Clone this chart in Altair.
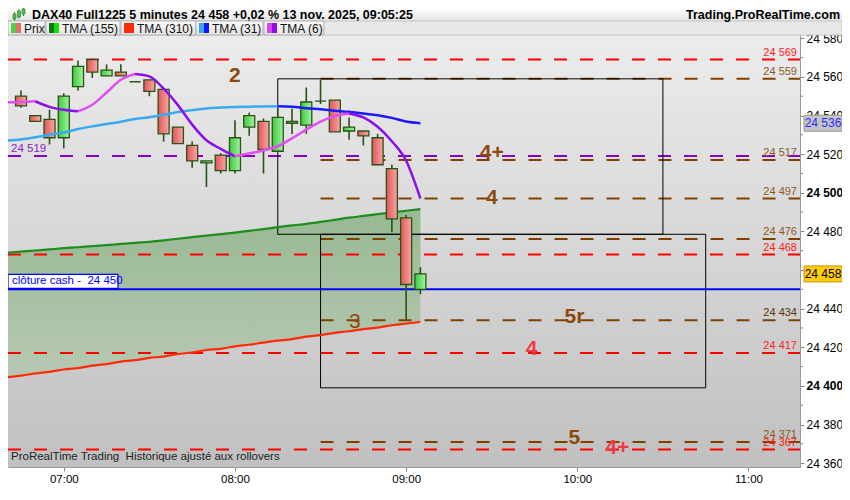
import altair as alt
import pandas as pd

# ---------------- data ----------------
times = ["06:45", "06:50", "06:55", "07:00", "07:05", "07:10", "07:15", "07:20", "07:25", "07:30",
         "07:35", "07:40", "07:45", "07:50", "07:55", "08:00", "08:05", "08:10", "08:15", "08:20",
         "08:25", "08:30", "08:35", "08:40", "08:45", "08:50", "08:55", "09:00", "09:05"]
opens = [24550, 24540, 24538, 24528.5, 24555, 24569, 24560.5, 24562.5, 24557.5, 24558.5,
         24553.5, 24534, 24524.5, 24515.5, 24519.5, 24511.5, 24534, 24537, 24521.5, 24536,
         24535, 24547.5, 24548, 24532, 24532, 24528.5, 24512.5, 24487, 24450]
highs = [24553, 24540, 24543, 24551.5, 24568.5, 24569.5, 24566.5, 24566.5, 24557.5, 24558.5,
         24553.5, 24534, 24526.5, 24516.5, 24520.5, 24537.5, 24541.5, 24538.5, 24544, 24543.5,
         24554.5, 24558.5, 24548, 24539, 24532, 24530.5, 24514.5, 24488.5, 24461.5]
lows = [24544, 24537, 24525, 24523, 24553, 24559.5, 24560.5, 24560.5, 24557.5, 24550,
        24526.5, 24525.5, 24513, 24503, 24510, 24510, 24529.5, 24510, 24521.5, 24530.5,
        24530.5, 24546, 24531.5, 24527.5, 24524.5, 24514.5, 24479.5, 24434, 24447.5]
closes = [24545, 24537, 24528.5, 24550, 24565.5, 24562.5, 24563.5, 24560.5, 24557.5, 24552.5,
          24530.5, 24525.5, 24516.5, 24516.5, 24511.5, 24528.5, 24540, 24522.5, 24539, 24537,
          24547, 24547.5, 24531.5, 24534, 24529.5, 24514.5, 24486.5, 24452.5, 24458]

ma_times = ["06:40"] + times
tma6 = [24546.8, 24547.0, 24547.4, 24544.5, 24543.0, 24542.2, 24545.6, 24551.9, 24558.5, 24561.5,
        24560.3, 24553.9, 24545.4, 24535.3, 24527.2, 24522.7, 24518.9, 24520.4, 24521.9, 24524.1,
        24528.2, 24532.7, 24536.8, 24539.8, 24541.1, 24539.0, 24534.2, 24526.7, 24516.6, 24497.0]
tma31 = [24527.0, 24527.6, 24528.7, 24530.0, 24531.2, 24533.0, 24534.4, 24535.6, 24536.8, 24538.2,
         24539.1, 24540.4, 24541.8, 24542.8, 24543.7, 24544.1, 24544.4, 24544.6, 24544.7, 24544.8,
         24544.6, 24543.8, 24543.2, 24542.5, 24541.9, 24541.0, 24540.2, 24538.8, 24536.9, 24536.0]
tma155 = [24469.0, 24469.5, 24470.1, 24470.7, 24471.3, 24471.8, 24472.4, 24472.9, 24473.5, 24474.1,
          24474.6, 24475.4, 24476.2, 24477.0, 24477.8, 24478.6, 24479.4, 24480.3, 24481.2, 24482.2,
          24483.1, 24483.9, 24484.9, 24486.0, 24487.1, 24488.0, 24488.9, 24489.8, 24490.7, 24491.5]
tma310 = [24404.5, 24405.3, 24406.5, 24407.3, 24408.5, 24409.2, 24410.5, 24411.3, 24412.6, 24413.3,
          24414.5, 24415.2, 24416.5, 24417.3, 24418.6, 24419.2, 24420.5, 24421.3, 24422.4, 24423.4,
          24424.2, 24425.5, 24426.3, 24427.5, 24428.3, 24429.4, 24430.2, 24431.4, 24432.2, 24433.2]

red_levels = [24569, 24468, 24417, 24367]
brown_levels = [24559, 24517, 24497, 24476, 24434, 24371]
brown_start = "08:30"
purple_level = 24519
cash_close = 24450

label_values = [24569, 24559, 24517, 24497, 24476, 24468, 24434, 24417, 24371, 24367]
label_colors = ["#ff1a1a", "#8b5a1e", "#8b5a1e", "#8b5a1e", "#8b5a1e", "#ff1a1a",
                "#5a3608", "#ff1a1a", "#8b5a1e", "#ff1a1a"]

box_start = ["08:15", "08:30"]
box_end = ["10:30", "10:45"]
box_low = [24478.5, 24399]
box_high = [24559, 24478.5]

ann_text = ["2", "4+", "4", "3", "5r", "4", "5", "4+"]
ann_time = ["08:00", "09:30", "09:30", "08:42", "09:59", "09:44", "09:59", "10:14"]
ann_price = [24560.5, 24520.6, 24497.4, 24433, 24435.8, 24419, 24373, 24367.6]
ann_color = ["#8b4a0c", "#8b4a0c", "#8b4a0c", "#8b4a0c", "#8b4a0c", "#f03844", "#8b4a0c", "#f03844"]
ann_bold = [True, True, True, False, True, True, True, True]

tag_values = [24536, 24458]
tag_fill = ["#c4c4c4", "#ffcc11"]
tag_stroke = ["#9a9a9a", "#c89a00"]
tag_text_color = ["#2a2aff", "#000000"]

legend_labels = ["Prix", "TMA (155)", "TMA (310)", "TMA (31)", "TMA (6)"]
legend_colors = [("#4dd24d", "#e86b6b"), ("#0b7a0b", "#11dd11"), ("#ff2a0a", "#ff2a0a"),
                 ("#33aaee", "#1414ff"), ("#d447f0", "#8a12e6")]
legend_x = [(0, 37), (38, 112), (113, 188), (188, 255), (256, 316)]

y_ticks = list(range(24360, 24581, 20))
y_minor = list(range(24370, 24580, 20))
x_ticks = ["07:00", "08:00", "09:00", "10:00", "11:00"]

# ---------------- setup ----------------
W, H = 792, 432
FONT = "Liberation Sans"
EDGE = "#2a5214"
BROWN = "#7f4000"


def to_min(s):
    h, m = s.split(":")
    return int(h) * 60 + int(m)


def fmt(v):
    return f"{int(round(v)):,}".replace(",", " ")


XS = alt.Scale(domain=[402.2, 676.3], nice=False, zero=False)
YS = alt.Scale(domain=[24358, 24581.7], nice=False, zero=False)

X_AXIS = alt.Axis(values=[to_min(s) for s in x_ticks],
                  labelExpr="(floor(datum.value/60) < 10 ? '0' : '') + floor(datum.value/60) + ':00'",
                  title=None, grid=False, tickSize=4, tickColor="#888", domainColor="#999",
                  labelFontSize=11.5, labelColor="#000", labelFont=FONT, labelPadding=2)
Y_AXIS = alt.Axis(orient="right", values=y_ticks,
                  labelExpr="replace(format(datum.value, ','), ',', ' ')",
                  labelFontWeight=alt.condition("datum.value % 100 == 0", alt.value("bold"), alt.value("normal")),
                  title=None, grid=False, tickSize=4, tickColor="#888", domainColor="#999",
                  labelFontSize=12, labelColor="#000", labelFont=FONT, labelPadding=2, zindex=0)


def X(field):
    return alt.X(field, type="quantitative", scale=XS, axis=X_AXIS)


def Y(field):
    return alt.Y(field, type="quantitative", scale=YS, axis=Y_AXIS)


def grad(c1, c2, horizontal=False):
    return alt.LinearGradient(gradient="linear",
                              stops=[alt.GradientStop(color=c1, offset=0), alt.GradientStop(color=c2, offset=1)],
                              x1=0, x2=1 if horizontal else 0, y1=0, y2=0 if horizontal else 1)


dummy = pd.DataFrame({"k": [0]})


def prect(x1, x2, y1, y2, **mk):
    return alt.Chart(dummy).mark_rect(**mk).encode(x=alt.value(x1), x2=alt.value(x2),
                                                   y=alt.value(y1), y2=alt.value(y2))


def ptext(x, y, s, **mk):
    return alt.Chart(dummy).mark_text(text=s, font=FONT, baseline="middle", **mk).encode(
        x=alt.value(x), y=alt.value(y))


def ma_segments(name, vals, up, down):
    ts = [to_min(s) for s in ma_times]
    rows = []
    seg = 0
    cur = None
    for i in range(len(vals) - 1):
        d = up if vals[i + 1] >= vals[i] else down
        if d != cur:
            seg += 1
            cur = d
            rows.append({"t": ts[i], "v": vals[i], "seg": f"{name}{seg}", "c": d})
        rows.append({"t": ts[i + 1], "v": vals[i + 1], "seg": f"{name}{seg}", "c": d})
    return pd.DataFrame(rows)


cdf = pd.DataFrame({"t": [to_min(s) for s in times], "open": opens, "high": highs,
                    "low": lows, "close": closes})
mdf = pd.DataFrame({"t": [to_min(s) for s in ma_times], "tma155": tma155, "tma310": tma310})

layers = []

# plot background
layers.append(prect(0, W, 0, H, fill=grad("#ececec", "#c0c0c0")))

# cloud between TMA155 and TMA310
layers.append(alt.Chart(mdf).mark_area(color=grad("#97b993", "#b7c8b2")).encode(
    x=X("t"), y=Y("tma155"), y2="tma310"))

# levels
rdf = pd.DataFrame({"v": red_levels})
layers.append(alt.Chart(rdf).mark_rule(color="#ff0000", strokeWidth=2, strokeDash=[13, 13]).encode(
    y=Y("v"), x=alt.value(0), x2=alt.value(W)))
pdf_ = pd.DataFrame({"v": [purple_level]})
layers.append(alt.Chart(pdf_).mark_rule(color="#8400cc", strokeWidth=2, strokeDash=[13, 13]).encode(
    y=Y("v"), x=alt.value(0), x2=alt.value(W)))
bdf = pd.DataFrame({"v": brown_levels, "t0": [to_min(brown_start)] * len(brown_levels)})
layers.append(alt.Chart(bdf).mark_rule(color=BROWN, strokeWidth=2, strokeDash=[13, 13]).encode(
    y=Y("v"), x=X("t0"), x2=alt.value(W)))

# boxes
boxdf = pd.DataFrame({"t1": [to_min(s) for s in box_start], "t2": [to_min(s) for s in box_end],
                      "lo": box_low, "hi": box_high})
layers.append(alt.Chart(boxdf).mark_rect(fillOpacity=0, stroke="#000", strokeWidth=1).encode(
    x=X("t1"), x2="t2", y=Y("lo"), y2="hi"))

# cash close line
cashdf = pd.DataFrame({"v": [cash_close], "txt": ["clôture cash -\u00a0\u00a0" + fmt(cash_close)]})
layers.append(alt.Chart(cashdf).mark_rule(color="#0000ff", strokeWidth=2).encode(
    y=Y("v"), x=alt.value(0), x2=alt.value(W)))

# TMA 155 / 310
layers.append(alt.Chart(mdf).mark_line(color="#1f8c1f", strokeWidth=2.2, interpolate="monotone").encode(
    x=X("t"), y=Y("tma155")))
layers.append(alt.Chart(mdf).mark_line(color="#ff2a0a", strokeWidth=2.2, interpolate="monotone").encode(
    x=X("t"), y=Y("tma310")))

# candles
layers.append(alt.Chart(cdf).mark_rule(color=EDGE, strokeWidth=1.6).encode(
    x=X("t"), y=Y("low"), y2="high"))
layers.append(alt.Chart(cdf).transform_filter("datum.close >= datum.open").mark_bar(
    size=11, fill=grad("#3dcb3d", "#a3f2a3", True), stroke=EDGE, strokeWidth=1.3).encode(
    x=X("t"), y=Y("open"), y2="close"))
layers.append(alt.Chart(cdf).transform_filter("datum.close < datum.open").mark_bar(
    size=11, fill=grad("#e25656", "#f8a6a6", True), stroke=EDGE, strokeWidth=1.3).encode(
    x=X("t"), y=Y("open"), y2="close"))

# TMA 31 and TMA 6 (two-colour)
for name, vals, up, down in [("m31", tma31, "#38aaf0", "#1a1aff"), ("m6", tma6, "#e050f0", "#8a10e8")]:
    sdf = ma_segments(name, vals, up, down)
    layers.append(alt.Chart(sdf).mark_line(strokeWidth=2.5, interpolate="monotone").encode(
        x=X("t"), y=Y("v"), detail="seg:N", color=alt.Color("c:N", scale=None), order="t:Q"))

# level labels on the right
ldf = pd.DataFrame({"v": label_values, "c": label_colors, "txt": [fmt(v) for v in label_values]})
layers.append(alt.Chart(ldf).mark_text(align="right", baseline="middle", dy=-7, fontSize=11, font=FONT).encode(
    y=Y("v"), x=alt.value(789), text="txt:N", color=alt.Color("c:N", scale=None)))
pl = pd.DataFrame({"v": [purple_level], "txt": [fmt(purple_level)]})
layers.append(alt.Chart(pl).mark_text(align="left", baseline="middle", dy=-7, fontSize=11.5, font=FONT,
                                      color="#8c1ec8").encode(y=Y("v"), x=alt.value(3), text="txt:N"))

# cash label
layers.append(alt.Chart(cashdf).mark_rect(fill="white", stroke="#0000ff", strokeWidth=1.2,
                                          yOffset=-15, y2Offset=-1).encode(
    y=Y("v"), y2="v", x=alt.value(0), x2=alt.value(110)))
layers.append(alt.Chart(cashdf).mark_text(align="left", baseline="middle", dy=-8, fontSize=11.5, font=FONT,
                                          color="#0000ff").encode(y=Y("v"), x=alt.value(4), text="txt:N"))

# annotations
adf = pd.DataFrame({"t": [to_min(s) for s in ann_time], "v": ann_price, "txt": ann_text,
                    "c": ann_color, "b": ann_bold})
for bold in [True, False]:
    layers.append(alt.Chart(adf[adf["b"] == bold]).mark_text(
        fontSize=21, font=FONT, fontWeight="bold" if bold else "normal", baseline="middle").encode(
        x=X("t"), y=Y("v"), text="txt:N", color=alt.Color("c:N", scale=None)))

# price tags on the axis
tdf = pd.DataFrame({"v": tag_values, "f": tag_fill, "s": tag_stroke, "tc": tag_text_color,
                    "txt": [fmt(v) for v in tag_values]})
layers.append(alt.Chart(tdf).mark_rect(strokeWidth=1, yOffset=-8, y2Offset=8).encode(
    y=Y("v"), y2="v", x=alt.value(796), x2=alt.value(834),
    fill=alt.Color("f:N", scale=None), stroke=alt.Color("s:N", scale=None)))
layers.append(alt.Chart(tdf).mark_text(align="center", baseline="middle", fontSize=12, font=FONT).encode(
    y=Y("v"), x=alt.value(815), text="txt:N", color=alt.Color("tc:N", scale=None)))

# minor ticks
mindf = pd.DataFrame({"v": y_minor})
layers.append(alt.Chart(mindf).mark_rule(color="#888", strokeWidth=1).encode(
    y=Y("v"), x=alt.value(W), x2=alt.value(W + 3)))

# footer text
layers.append(ptext(3, H - 10, "ProRealTime Trading\u00a0\u00a0Historique ajusté aux rollovers",
                    align="left", fontSize=11.5, color="#222"))

# header
layers.append(prect(0, 834, -27, -14, fill=grad("#ffffff", "#e4e4e4")))
layers.append(prect(0, 834, -14, 0, fill="#e8e8e8", stroke="#c4c4c4", strokeWidth=1))
layers.append(ptext(24, -20.5, "DAX40 Full1225 5 minutes 24 458 +0,02 % 13 nov. 2025, 09:05:25",
                    align="left", fontSize=12.5, fontWeight="bold", color="#000"))
layers.append(ptext(832, -20.5, "Trading.ProRealTime.com", align="right", fontSize=12.5,
                    fontWeight="bold", color="#000"))
# tiny candlestick icon
for (x1, y1, y2) in [(5, -21, -16), (9.5, -24, -18), (14, -26, -21)]:
    layers.append(prect(x1 + 1, x1 + 1.8, y1 - 2, y2 + 2, fill="#2e6b1e"))
    layers.append(prect(x1, x1 + 3, y1, y2, fill="#45c845", stroke="#2e6b1e", strokeWidth=0.6))
# legend buttons
for lab, (c1, c2), (xa, xb) in zip(legend_labels, legend_colors, legend_x):
    layers.append(prect(xa, xb, -14, 0, fill=grad("#fbfbfb", "#e2e2e2"), stroke="#b0b0b0", strokeWidth=1))
    layers.append(prect(xa + 3, xa + 8, -12, -2, fill=c1))
    layers.append(prect(xa + 8, xa + 13, -12, -2, fill=c2))
    layers.append(ptext(xa + 16, -6.5, lab, align="left", fontSize=12, color="#111"))

chart = alt.layer(*layers).properties(
    width=W, height=H,
    padding={"left": 0, "top": 27, "right": 42, "bottom": 17},
    autosize=alt.AutoSizeParams(type="none"),
    background="white",
).configure_view(stroke=None).configure(font=FONT)

chart.save("out.html", embed_options={"renderer": "svg", "actions": False})
